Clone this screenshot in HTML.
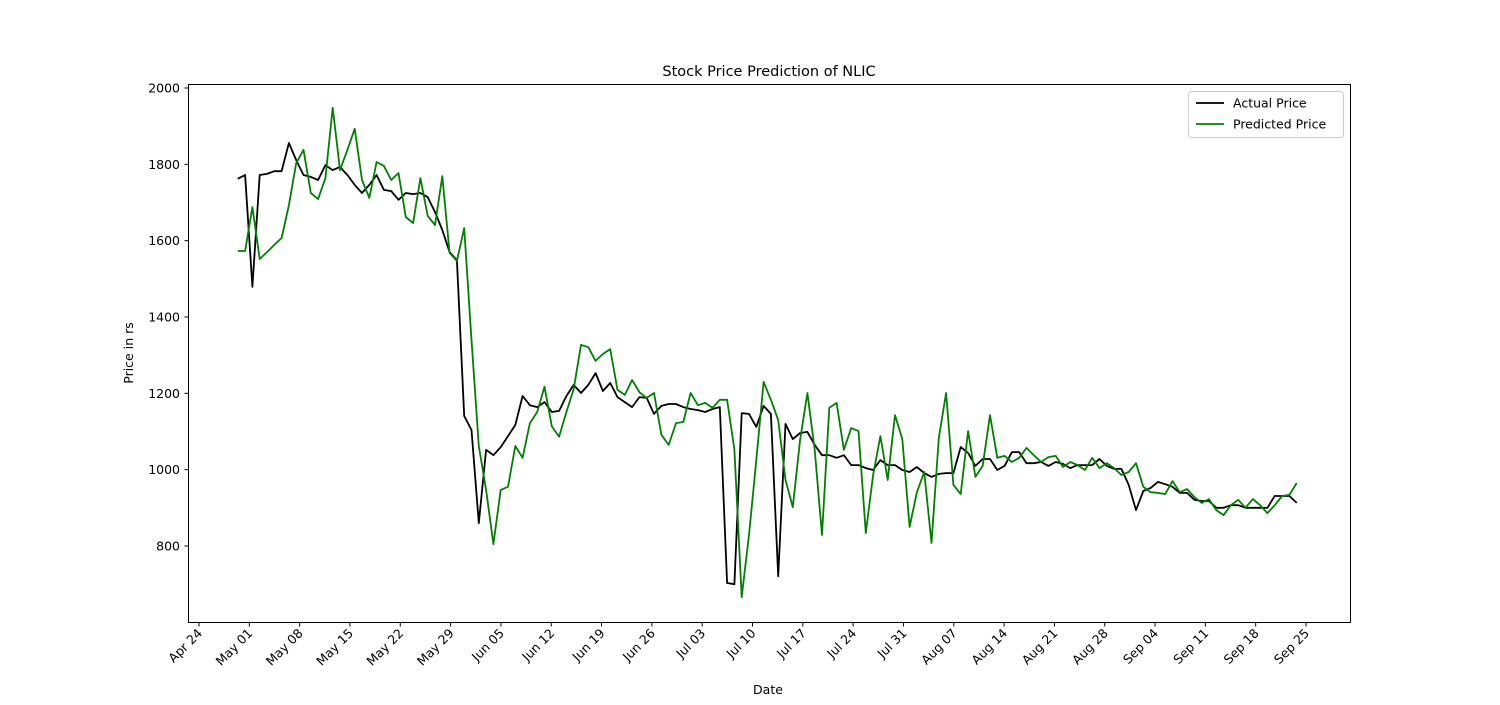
<!DOCTYPE html>
<html><head><meta charset="utf-8"><style>
body{margin:0;background:#fff;font-family:"Liberation Sans","DejaVu Sans",sans-serif}
</style></head><body>
<svg id="chart" width="1500" height="700" xmlns="http://www.w3.org/2000/svg" font-family="'DejaVu Sans','Liberation Sans',sans-serif">
<rect width="1500" height="700" fill="#fff"/>
<text x="769" y="76" font-size="14.5" text-anchor="middle">Stock Price Prediction of NLIC</text>
<text transform="translate(133,353) rotate(-90)" font-size="12.5" text-anchor="middle">Price in rs</text>
<text x="768" y="694" font-size="12.5" text-anchor="middle">Date</text>
<g id="ticks"></g>
<g id="lines"></g>
<rect x="188.5" y="84.5" width="1162" height="538" fill="none" stroke="#000" stroke-width="1"/>
<g>
<rect x="1188.5" y="91.5" width="155" height="46" fill="#fff" stroke="#ccc" rx="3"/>
<line x1="1196" y1="103" x2="1224" y2="103" stroke="#000" stroke-width="1.8"/>
<text x="1233" y="107.5" font-size="12.5">Actual Price</text>
<line x1="1196" y1="124" x2="1224" y2="124" stroke="green" stroke-width="1.8"/>
<text x="1233" y="128.5" font-size="12.5">Predicted Price</text>
</g>
</svg>
<script>
const yTicks=[800,1000,1200,1400,1600,1800,2000];
const xTickLabels=["Apr 24","May 01","May 08","May 15","May 22","May 29","Jun 05","Jun 12","Jun 19","Jun 26","Jul 03","Jul 10","Jul 17","Jul 24","Jul 31","Aug 07","Aug 14","Aug 21","Aug 28","Sep 04","Sep 11","Sep 18","Sep 25"];
const startDay=5.4, endDay=152.7; // days after Apr 24
const actual=[1762,1772,1479,1772,1775,1782,1782,1856,1811,1772,1767,1759,1798,1785,1793,1772,1746,1725,1746,1772,1733,1730,1707,1725,1722,1725,1714,1675,1628,1570,1549,1141,1104,860,1052,1038,1059,1088,1117,1193,1169,1164,1177,1151,1154,1193,1222,1201,1222,1253,1206,1227,1190,1177,1164,1190,1188,1146,1167,1172,1172,1164,1159,1156,1151,1159,1164,703,700,1148,1146,1112,1167,1146,721,1120,1080,1096,1099,1065,1038,1038,1031,1038,1012,1012,1004,999,1025,1012,1012,999,994,1007,991,981,989,991,991,1059,1044,1010,1028,1028,999,1010,1046,1046,1017,1017,1020,1010,1020,1015,1004,1012,1012,1012,1028,1010,1002,1002,960,894,944,952,968,962,955,939,939,921,918,918,900,900,907,907,900,900,900,900,931,931,931,913];
const predicted=[1573,1573,1688,1552,1570,1589,1607,1693,1803,1838,1725,1709,1764,1948,1785,1838,1893,1759,1712,1806,1796,1759,1777,1662,1646,1764,1665,1641,1769,1568,1547,1633,1340,1062,947,805,947,955,1062,1031,1122,1151,1217,1114,1086,1151,1211,1327,1321,1285,1303,1316,1209,1196,1235,1203,1188,1201,1091,1065,1122,1125,1201,1169,1175,1162,1183,1183,1052,666,829,1025,1230,1183,1130,973,902,1078,1201,1052,829,1162,1175,1052,1109,1101,834,986,1088,973,1143,1080,850,941,994,808,1083,1201,960,936,1101,981,1010,1143,1031,1036,1020,1031,1057,1038,1020,1033,1036,1007,1020,1012,999,1031,1004,1017,1004,986,994,1017,955,941,939,936,970,941,949,928,913,923,894,881,907,921,900,923,907,886,907,931,934,965];
const NS="http://www.w3.org/2000/svg";
const X=d=>199+d*(1306-199)/154;
const Y=v=>546-(v-800)*(546-88)/1200;
const ticks=document.getElementById('ticks'), lines=document.getElementById('lines');
function mk(t,a,p){const e=document.createElementNS(NS,t);for(const k in a)e.setAttribute(k,a[k]);p.appendChild(e);return e;}
yTicks.forEach(v=>{
  const l=mk('line',{x1:184.5,x2:188.5,y1:Y(v),y2:Y(v),stroke:'#000'},ticks);
  
  
  const t=mk('text',{x:180,y:Y(v)+4.5,'font-size':12.5,'text-anchor':'end'},ticks);
  t.textContent=v;
  
  
});
xTickLabels.forEach((s,i)=>{
  const x=X(i*7);
  const l=mk('line',{x1:x,x2:x,y1:622.5,y2:626.5,stroke:'#000'},ticks);
  
  
  const t=mk('text',{transform:`translate(${x+4},${634}) rotate(-45)`,'font-size':12.5,'text-anchor':'end'},ticks);
  t.textContent=s;
  
  
});
function series(vals,color,name){
  const n=vals.length;
  const pts=vals.map((v,i)=>X(startDay+i*(endDay-startDay)/(n-1)).toFixed(1)+','+Y(v).toFixed(1)).join(' ');
  const p=mk('polyline',{points:pts,fill:'none',stroke:color,'stroke-width':1.8,'stroke-linejoin':'round'},lines);
  
  
}
series(actual,'#000','actual-price-line');
series(predicted,'green','predicted-price-line');
</script>
</body></html>
